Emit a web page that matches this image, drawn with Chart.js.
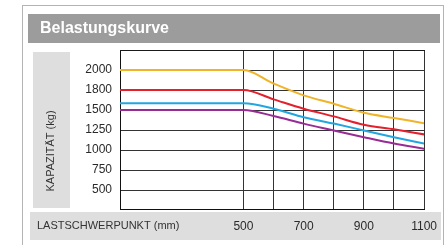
<!DOCTYPE html>
<html>
<head>
<meta charset="utf-8">
<script src="https://cdn.jsdelivr.net/npm/chart.js@4/dist/chart.umd.min.js"></script>
<style>
  body { margin: 0; background: #fff; }
  #wrap { width: 447px; height: 245px; }
</style>
</head>
<body>
<div id="wrap"><canvas id="myChart" width="447" height="245"></canvas></div>
<script>
'use strict';

// load centre positions (mm); first one is the left edge of the plot
const xValues = [90, 500, 600, 700, 800, 900, 1000, 1100];
const xTickLabels = [500, 700, 900, 1100];
const yTickLabels = [500, 750, 1000, 1250, 1500, 1800, 2000];

const orange = [2000, 2000, 1865, 1720, 1595, 1465, 1400, 1335];
const red = [1800, 1800, 1660, 1520, 1420, 1315, 1258, 1195];
const blue = [1600, 1600, 1520, 1410, 1330, 1245, 1160, 1080];
const purple = [1500, 1500, 1425, 1330, 1245, 1160, 1080, 1015];

// the y axis is not linear: every tick label sits on an evenly spaced line
const toIdx = function (v) {
    for (let i = 0; i < yTickLabels.length - 1; i++) {
        const a = yTickLabels[i], b = yTickLabels[i + 1];
        if (v <= b || i === yTickLabels.length - 2) {
            return i + (v - a) / (b - a);
        }
    }
};

const makePoints = function (vals) {
    return vals.map((v, i) => ({ x: xValues[i], y: toIdx(v) }));
};

const frame = {
    id: 'frame',
    beforeDraw(chart) {
        const c = chart.ctx;
        c.save();
        c.fillStyle = '#fff';
        c.fillRect(0, 0, 447, 245);
        // outer border
        c.strokeStyle = '#b4b4b4';
        c.lineWidth = 1;
        c.strokeRect(22.5, 5.5, 421, 250);
        // title bar
        c.fillStyle = '#9c9c9c';
        c.fillRect(28, 14, 412, 29);
        c.fillStyle = '#fff';
        c.font = 'bold 16px "Liberation Sans", Arial, sans-serif';
        c.textBaseline = 'middle';
        c.fillText('Belastungskurve', 40, 29);
        // y title panel
        c.fillStyle = '#dedede';
        c.fillRect(33, 52, 37, 156);
        // x band
        c.fillRect(30, 212, 411, 28);
        c.fillStyle = '#333';
        c.font = '11px "Liberation Sans", Arial, sans-serif';
        c.fillText('LASTSCHWERPUNKT (mm)', 37, 226);
        c.translate(51, 151);
        c.rotate(-Math.PI / 2);
        c.textAlign = 'center';
        c.fillText('KAPAZITÄT (kg)', 0, 0);
        c.restore();
    },
    // top edge of the plot box
    afterDraw(chart) {
        const a = chart.chartArea;
        const c = chart.ctx;
        c.save();
        c.fillStyle = '#1a1a1a';
        c.fillRect(Math.round(a.left), Math.round(a.top), Math.round(a.right - a.left) + 1, 1);
        c.restore();
    }
};

const line = function (vals, color) {
    return {
        data: makePoints(vals),
        borderColor: color,
        borderWidth: 2,
        pointRadius: 0,
        fill: false,
        cubicInterpolationMode: 'monotone'
    };
};

const ctx = document.getElementById('myChart').getContext('2d');
const myChart = new Chart(ctx, {
    type: 'line',
    data: {
        datasets: [
            line(orange, '#f0b429'),
            line(red, '#e3202b'),
            line(blue, '#22a6df'),
            line(purple, '#982c95')
        ]
    },
    options: {
        responsive: false,
        animation: false,
        layout: { padding: { left: 0, top: 50, right: 14, bottom: 0 } },
        plugins: { legend: { display: false }, tooltip: { enabled: false } },
        scales: {
            x: {
                type: 'linear',
                min: 90,
                max: 1100,
                afterBuildTicks(scale) {
                    const t = [];
                    for (let v = 500; v <= 1100; v += 100) t.push({ value: v });
                    scale.ticks = t;
                },
                afterFit(scale) { scale.height = 36; },
                grid: { color: '#333', lineWidth: 1, drawTicks: false },
                border: { color: '#111', width: 1 },
                ticks: {
                    autoSkip: false,
                    maxRotation: 0,
                    padding: 10,
                    color: '#2a2a2a',
                    font: { family: '"Liberation Sans", Arial, sans-serif', size: 12 },
                    callback: v => (xTickLabels.includes(v) ? String(v) : '')
                }
            },
            y: {
                type: 'linear',
                min: -0.95,
                max: 7,
                afterBuildTicks(scale) {
                    scale.ticks = yTickLabels.map((v, i) => ({ value: i }));
                },
                afterFit(scale) { scale.width = 120; },
                grid: { color: '#333', lineWidth: 1, drawTicks: false },
                border: { color: '#111', width: 1 },
                ticks: {
                    autoSkip: false,
                    padding: 8,
                    color: '#2a2a2a',
                    font: { family: '"Liberation Sans", Arial, sans-serif', size: 12 },
                    callback: (v, i) => String(yTickLabels[i])
                }
            }
        }
    },
    plugins: [frame]
});
</script>
</body>
</html>
